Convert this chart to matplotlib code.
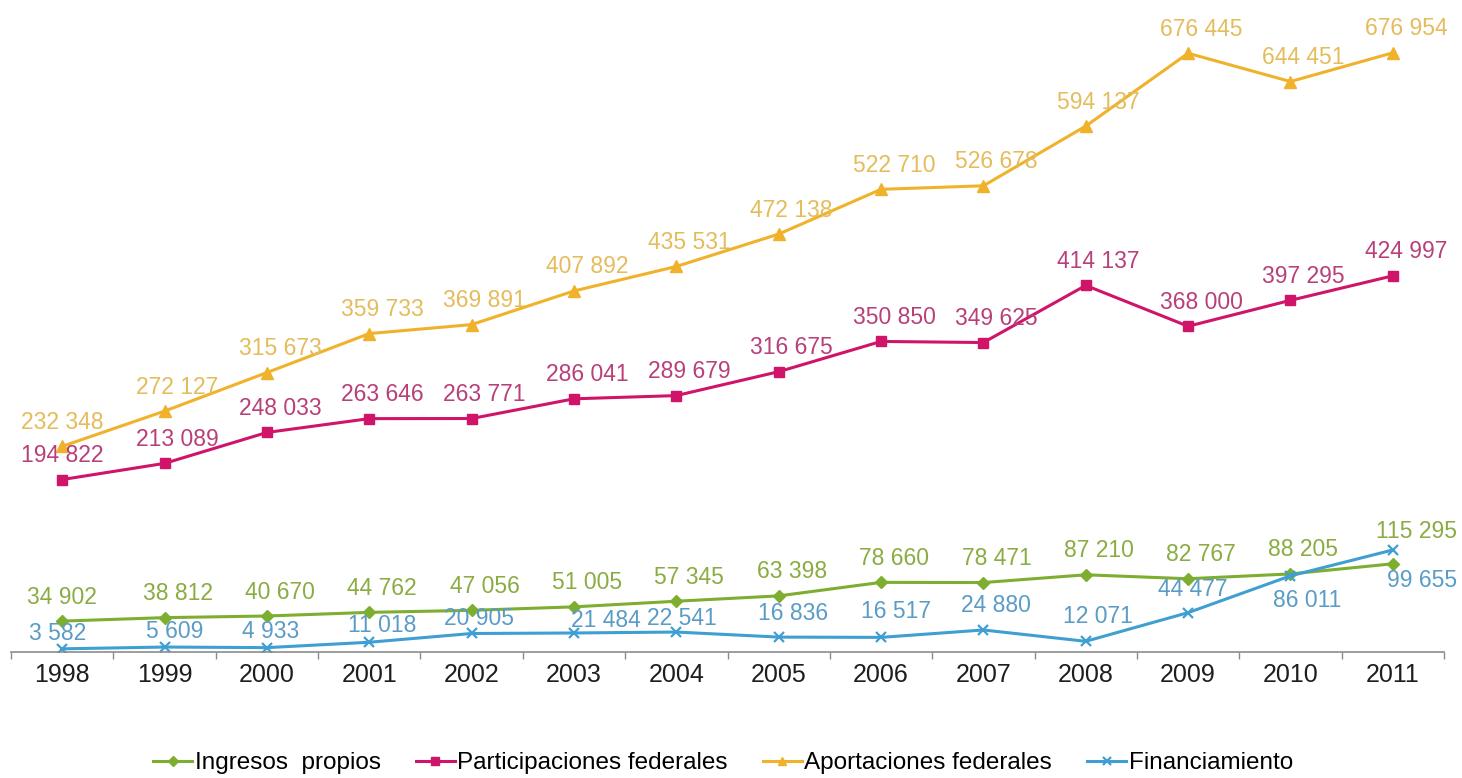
import matplotlib
matplotlib.use("Agg")
from matplotlib import pyplot as plt
from matplotlib.ticker import FixedLocator

years = ["1998", "1999", "2000", "2001", "2002", "2003", "2004",
         "2005", "2006", "2007", "2008", "2009", "2010", "2011"]

ingresos = [34902, 38812, 40670, 44762, 47056, 51005, 57345,
            63398, 78660, 78471, 87210, 82767, 88205, 99655]
participaciones = [194822, 213089, 248033, 263646, 263771, 286041, 289679,
                   316675, 350850, 349625, 414137, 368000, 397295, 424997]
aportaciones = [232348, 272127, 315673, 359733, 369891, 407892, 435531,
                472138, 522710, 526678, 594137, 676445, 644451, 676954]
financiamiento = [3582, 5609, 4933, 11018, 20905, 21484, 22541,
                  16836, 16517, 24880, 12071, 44477, 86011, 115295]

plt.rcParams['font.family'] = ['Liberation Sans', 'DejaVu Sans']

fig = plt.figure(figsize=(14.62, 7.78), dpi=100)
ax = fig.add_axes([11 / 1462, 126 / 778, 1433 / 1462, 632 / 778])

x = list(range(len(years)))

# line colour, label colour, marker, marker size
series = [
    ("Ingresos  propios", ingresos, "#7dae2f", "#8aac42", "D", 6),
    ("Participaciones federales", participaciones, "#d0146a", "#b8407a", "s", 7.5),
    ("Aportaciones federales", aportaciones, "#f0b22a", "#e4bc5c", "^", 8),
    ("Financiamiento", financiamiento, "#3f9fd2", "#5a9cc6", "x", 7),
]

handles = []
for name, vals, col, lcol, mk, ms in series:
    h, = ax.plot(x, vals, color=col, lw=2.2, marker=mk, ms=ms,
                 mew=1.6 if mk == "x" else 1, mec=col, mfc=col, label=name)
    handles.append(h)

# label offsets in pixels (dx, dy)
def default_offset(i):
    return (0, 24) if i == 0 else (13, 24)

fin_offsets = [(-5, 15), (10, 16), (4, 16), (13, 17), (7, 15), (32, 12), (6, 14),
               (14, 24), (15, 26), (13, 24), (12, 25), (5, 23), (17, -25), (24, 18)]

def fmt(v):
    return f"{v:,}".replace(",", " ")

for si, (name, vals, col, lcol, mk, ms) in enumerate(series):
    for i, v in enumerate(vals):
        off = default_offset(i)
        c = lcol
        if si == 3:
            off = fin_offsets[i]
        if si == 0 and i == 13:
            off = (29, -17)
            c = series[3][3]
        if si == 3 and i == 13:
            c = series[0][3]
        ax.annotate(fmt(v), (i, v), xytext=off, textcoords="offset pixels",
                    ha="center", va="center", fontsize=16.5, color=c)

ax.set_xlim(-0.5, len(years) - 0.5)
ax.set_ylim(0, 714000)
ax.set_xticks(x)
ax.set_xticklabels(years)
ax.xaxis.set_minor_locator(FixedLocator([i - 0.5 for i in range(len(years) + 1)]))
ax.tick_params(axis="x", which="major", length=0, pad=8, labelsize=18, labelcolor="#1e1e1e")
ax.tick_params(axis="x", which="minor", length=5, width=1, color="#8c8c8c", direction="out")
ax.set_yticks([])
for s in ["left", "right", "top"]:
    ax.spines[s].set_visible(False)
ax.spines["bottom"].set_color("#8c8c8c")
ax.spines["bottom"].set_linewidth(1.2)
ax.patch.set_alpha(0)

fig.legend(handles=handles, loc="center", bbox_to_anchor=(723 / 1462, 1 - 763 / 778),
           ncol=4, frameon=False, fontsize=17.5, handlelength=1.6, handletextpad=0.1,
           columnspacing=1.45, markerscale=0.8)

fig.savefig("out.png", dpi=100)
